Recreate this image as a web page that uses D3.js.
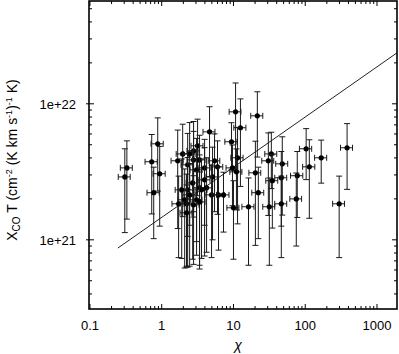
<!DOCTYPE html>
<html>
<head>
<meta charset="utf-8">
<script src="https://cdn.jsdelivr.net/npm/d3@7"></script>
<style>
  body { margin: 0; background: #fff; }
  text { font-family: "Liberation Sans", Arial, sans-serif; }
</style>
</head>
<body>
<div id="chart"></div>
<script>

// chi (x) and X_CO T (y) with errors
var chi = [0.327, 0.306, 0.726, 0.880, 0.938, 0.774,
  1.67, 1.96, 2.45, 2.78, 3.16, 2.30, 2.78, 3.37, 3.06, 3.96, 5.45, 5.99, 5.11, 3.96, 3.37,
  2.70, 2.30, 1.90, 2.45, 2.09, 3.06, 1.72, 2.22, 2.78, 2.22, 4.95, 6.19, 7.26, 4.22, 3.59, 3.37,
  10.7, 12.5, 21.5, 4.64, 9.38, 11.4, 11.0, 9.68, 10.0, 16.2, 33.7, 30.6, 47.9, 103, 114, 167,
  383, 297, 20.2, 34.8, 46.4, 77.4, 22.2, 31.6, 46.4, 75.0]
var chiErr = [0.062, 0.058, 0.14, 0.17, 0.18, 0.15,
  0.32, 0.37, 0.47, 0.53, 0.60, 0.44, 0.53, 0.64, 0.58, 0.75, 1.0, 1.1, 0.97, 0.75, 0.64,
  0.51, 0.44, 0.36, 0.47, 0.40, 0.58, 0.33, 0.42, 0.53, 0.42, 0.94, 1.2, 1.4, 0.80, 0.68, 0.64,
  2.0, 2.4, 4.1, 0.88, 1.8, 2.2, 2.1, 1.8, 1.9, 3.1, 6.4, 5.8, 9.1, 20, 22, 32,
  73, 56, 3.8, 6.6, 8.8, 15, 4.2, 6.0, 8.8, 14]
var xcoT = [3.38e21, 2.90e21, 3.75e21, 5.08e21, 3.06e21, 2.22e21,
  3.81e21, 4.28e21, 4.28e21, 4.51e21, 4.91e21, 3.56e21, 3.87e21, 3.87e21, 3.27e21, 3.38e21, 3.81e21, 3.44e21, 2.90e21, 2.76e21, 2.41e21,
  2.62e21, 2.33e21, 2.33e21, 2.14e21, 1.97e21, 1.97e21, 1.84e21, 1.84e21, 1.81e21, 1.58e21, 2.14e21, 2.14e21, 2.14e21, 2.41e21, 2.33e21, 1.90e21,
  8.73e21, 6.67e21, 8.16e21, 6.22e21, 5.26e21, 4.01e21, 3.16e21, 3.38e21, 1.72e21, 1.75e21, 4.28e21, 3.81e21, 3.62e21, 4.67e21, 3.44e21, 4.01e21,
  4.75e21, 1.84e21, 3.11e21, 2.72e21, 2.86e21, 2.96e21, 2.22e21, 1.75e21, 1.84e21, 2.00e21]
var xcoTErr = [1.96e21, 1.77e21, 2.2e21, 2.8e21, 1.8e21, 1.2e21,
  2.6e21, 2.8e21, 3.0e21, 2.9e21, 2.8e21, 2.5e21, 2.4e21, 2.0e21, 2.3e21, 2.1e21, 2.2e21, 1.9e21, 1.9e21, 2.0e21, 1.8e21,
  1.9e21, 1.7e21, 1.6e21, 1.5e21, 1.35e21, 1.2e21, 1.1e21, 1.2e21, 1.15e21, 0.95e21, 1.4e21, 1.3e21, 1.0e21, 1.6e21, 1.6e21, 1.25e21,
  5.5e21, 4.2e21, 4.1e21, 3.3e21, 2.0e21, 2.7e21, 1.5e21, 1.6e21, 1.0e21, 1.1e21, 1.9e21, 2.3e21, 2.1e21, 1.9e21, 2.0e21, 1.4e21,
  2.4e21, 1.1e21, 2.2e21, 1.5e21, 1.6e21, 1.5e21, 1.2e21, 1.1e21, 1.1e21, 1.1e21]

// fitted line end points
var fitX = [0.245, 1900]
var fitY = [8.7e20, 2.37e22]

var xTickLabels = ["0.1", "1", "10", "100", "1000"]
var yTickLabels = ["1e+21", "1e+22"]

var width = 399
var height = 354
var pL = 89, pR = 397, pT = 1, pB = 309

var x = d3.scaleLog().domain([0.097, 1900]).range([pL, pR])
var y = d3.scaleLog().domain([3.1e20, 5.7e22]).range([pB, pT])

var svg = d3.select("#chart").append("svg")
  .attr("width", width)
  .attr("height", height)

var data = chi.map(function(c, i) {
  return {x: c, xe: chiErr[i], y: xcoT[i], ye: xcoTErr[i]}
})

svg.append("clipPath").attr("id", "clip")
  .append("rect")
  .attr("x", pL).attr("y", pT)
  .attr("width", pR - pL).attr("height", pB - pT)

var plot = svg.append("g").attr("clip-path", "url(#clip)")

// fit line
plot.append("line")
  .attr("x1", x(fitX[0])).attr("y1", y(fitY[0]))
  .attr("x2", x(fitX[1])).attr("y2", y(fitY[1]))
  .attr("stroke", "#222")
  .attr("stroke-width", 1)

var cap = 3
var pts = plot.selectAll(".pt").data(data).enter().append("g")
  .attr("stroke", "#1a1a1a")
  .attr("stroke-width", 1)

// vertical bars
pts.append("line")
  .attr("x1", function(d) { return x(d.x) }).attr("x2", function(d) { return x(d.x) })
  .attr("y1", function(d) { return y(d.y + d.ye) }).attr("y2", function(d) { return y(d.y - d.ye) })
pts.append("line")
  .attr("x1", function(d) { return x(d.x) - cap }).attr("x2", function(d) { return x(d.x) + cap })
  .attr("y1", function(d) { return y(d.y + d.ye) }).attr("y2", function(d) { return y(d.y + d.ye) })
pts.append("line")
  .attr("x1", function(d) { return x(d.x) - cap }).attr("x2", function(d) { return x(d.x) + cap })
  .attr("y1", function(d) { return y(d.y - d.ye) }).attr("y2", function(d) { return y(d.y - d.ye) })

// horizontal bars
pts.append("line")
  .attr("x1", function(d) { return x(d.x - d.xe) }).attr("x2", function(d) { return x(d.x + d.xe) })
  .attr("y1", function(d) { return y(d.y) }).attr("y2", function(d) { return y(d.y) })
pts.append("line")
  .attr("x1", function(d) { return x(d.x - d.xe) }).attr("x2", function(d) { return x(d.x - d.xe) })
  .attr("y1", function(d) { return y(d.y) - cap }).attr("y2", function(d) { return y(d.y) + cap })
pts.append("line")
  .attr("x1", function(d) { return x(d.x + d.xe) }).attr("x2", function(d) { return x(d.x + d.xe) })
  .attr("y1", function(d) { return y(d.y) - cap }).attr("y2", function(d) { return y(d.y) + cap })

pts.append("circle")
  .attr("cx", function(d) { return x(d.x) })
  .attr("cy", function(d) { return y(d.y) })
  .attr("r", 2.6)
  .attr("fill", "#000")
  .attr("stroke", "none")

// ticks
var isMajor = function(v) { return Math.abs(Math.log10(v) - Math.round(Math.log10(v))) < 1e-6 }
var ax = svg.append("g").attr("stroke", "#000").attr("stroke-width", 1)

x.ticks().forEach(function(v) {
  var len = isMajor(v) ? 5 : 3
  ax.append("line").attr("x1", x(v)).attr("x2", x(v)).attr("y1", pB).attr("y2", pB - len)
  ax.append("line").attr("x1", x(v)).attr("x2", x(v)).attr("y1", pT).attr("y2", pT + len)
})
y.ticks().forEach(function(v) {
  var len = isMajor(v) ? 5 : 3
  ax.append("line").attr("y1", y(v)).attr("y2", y(v)).attr("x1", pL - (isMajor(v) ? 3 : 0)).attr("x2", pL + len)
  ax.append("line").attr("y1", y(v)).attr("y2", y(v)).attr("x1", pR).attr("x2", pR - len)
})

svg.append("rect")
  .attr("x", pL).attr("y", pT)
  .attr("width", pR - pL).attr("height", pB - pT)
  .attr("fill", "none")
  .attr("stroke", "#000")
  .attr("stroke-width", 1.6)

// tick labels
svg.selectAll(".xl").data(xTickLabels).enter().append("text")
  .attr("x", function(d) { return x(+d) })
  .attr("y", 330)
  .attr("text-anchor", "middle")
  .attr("font-size", 13)
  .text(function(d) { return d })

svg.selectAll(".yl").data(yTickLabels).enter().append("text")
  .attr("x", 76)
  .attr("y", function(d) { return y(+d) + 5 })
  .attr("text-anchor", "end")
  .attr("font-size", 13)
  .text(function(d) { return d })

// axis titles
svg.append("text")
  .attr("x", 238).attr("y", 350)
  .attr("text-anchor", "middle")
  .attr("font-size", 14)
  .attr("font-family", "DejaVu Serif, serif")
  .attr("font-style", "italic")
  .text("χ")

var yt = svg.append("text")
  .attr("transform", "translate(17,160) rotate(-90)")
  .attr("text-anchor", "middle")
  .attr("font-size", 14)
yt.append("tspan").text("X")
yt.append("tspan").attr("font-size", 10).attr("dy", 3).text("CO")
yt.append("tspan").attr("dy", -3).text(" T (cm")
yt.append("tspan").attr("font-size", 9).attr("dy", -5).text("-2")
yt.append("tspan").attr("dy", 5).text(" (K km s")
yt.append("tspan").attr("font-size", 9).attr("dy", -5).text("-1")
yt.append("tspan").attr("dy", 5).text(")")
yt.append("tspan").attr("font-size", 9).attr("dy", -5).text("-1")
yt.append("tspan").attr("dy", 5).text(" K)")

</script>
</body>
</html>
